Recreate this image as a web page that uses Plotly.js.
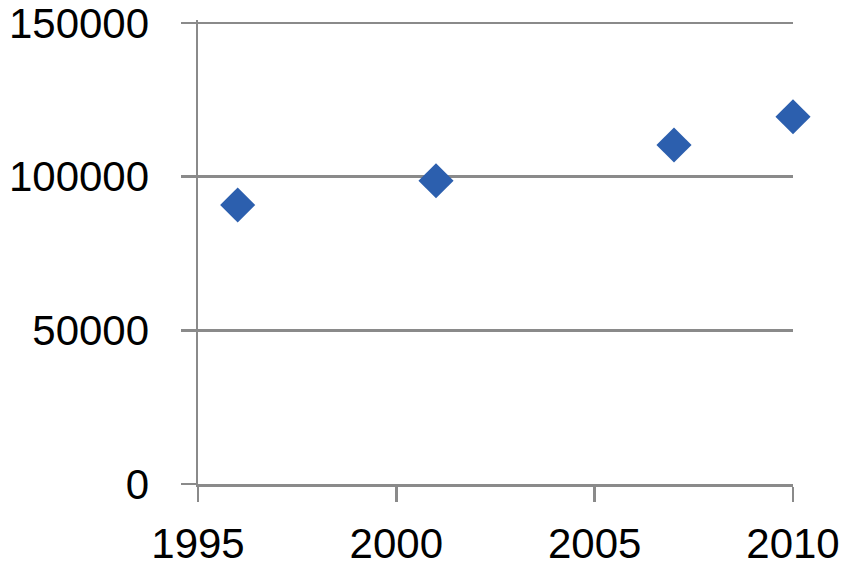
<!DOCTYPE html>
<html>
<head>
<meta charset="utf-8">
<script src="https://cdn.plot.ly/plotly-3.0.1.min.js"></script>
<style>html,body{margin:0;padding:0;background:#fff;}#chart{width:850px;height:570px;}</style>
</head>
<body>
<div id="chart"></div>
<script>
var years = [1996, 2001, 2007, 2010];
var values = [90800, 98700, 110300, 119500];
var xTicks = [1995, 2000, 2005, 2010];
var yTicks = [0, 50000, 100000, 150000];

var trace = {
  x: years,
  y: values,
  type: 'scatter',
  mode: 'markers',
  cliponaxis: false,
  marker: {symbol: 'diamond', size: 27, color: '#2c5fae', line: {width: 0}},
  hoverinfo: 'x+y'
};

var axisFont = {family: 'Liberation Sans, Arial, sans-serif', size: 42, color: '#000'};

var layout = {
  width: 850,
  height: 570,
  margin: {l: 198, r: 57, t: 20, b: 86, pad: 0},
  paper_bgcolor: '#fff',
  plot_bgcolor: '#fff',
  showlegend: false,
  xaxis: {
    range: [1995, 2010],
    tickvals: xTicks,
    ticktext: xTicks.map(String),
    showgrid: false,
    zeroline: false,
    showline: true,
    linecolor: '#8a8a8a',
    linewidth: 2.5,
    ticks: 'outside',
    ticklen: 15,
    tickwidth: 2.5,
    tickcolor: '#8a8a8a',
    ticklabelstandoff: 6,
    ticklabeloverflow: 'allow',
    tickfont: axisFont
  },
  yaxis: {
    range: [0, 151000],
    tickvals: yTicks,
    ticktext: yTicks.map(String),
    showgrid: true,
    gridcolor: '#8a8a8a',
    gridwidth: 2.5,
    zeroline: false,
    showline: true,
    linecolor: '#8a8a8a',
    linewidth: 2.5,
    ticks: 'outside',
    ticklen: 15,
    tickwidth: 2.5,
    tickcolor: '#8a8a8a',
    ticklabelstandoff: 23,
    ticklabeloverflow: 'allow',
    tickfont: axisFont
  }
};

Plotly.newPlot('chart', [trace], layout, {displayModeBar: false, staticPlot: true});
</script>
</body>
</html>
